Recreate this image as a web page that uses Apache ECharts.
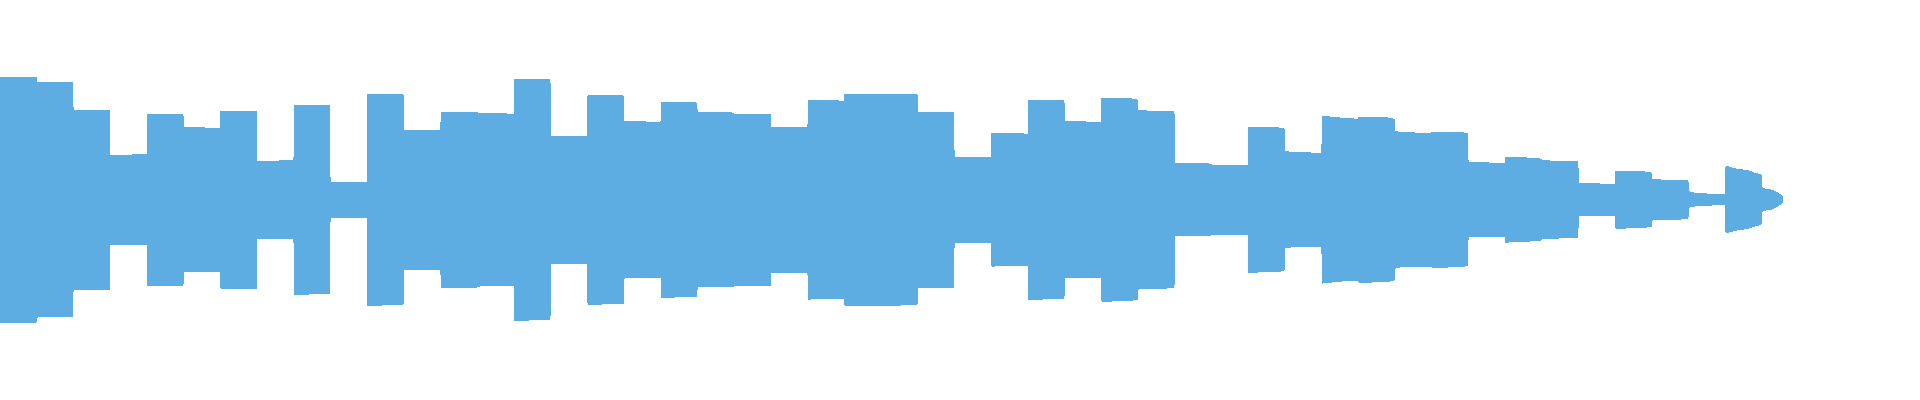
<!DOCTYPE html>
<html>
<head>
<meta charset="utf-8">
<script src="https://cdn.jsdelivr.net/npm/echarts@6/dist/echarts.min.js"></script>
<style>
html,body{margin:0;padding:0;background:#ffffff;}
#chart{width:1920px;height:400px;}
#chart path{shape-rendering:crispEdges;}
</style>
</head>
<body>
<div id="chart"></div>
<script>
// One layer of a theme river; each step (period) has a value at its start and at its end.
const layerName = 'Stream';
const segmentStart = [123,118,90,45,86,73,89,39,95,18,106,70,88,87,121,64,105,79,98,88,86,73,100,106,106,88,43,67,100,79,102,90,37,35,73,49,84,83,69,68,38,43,39.5,17,29,21,8.5];
const segmentEnd   = [123,117,90,45.5,86,72,89,39.5,94,18,105,70,88,86,120,64,104,78,97,87,86,73,99,106,105,88,43,66,99,78,100,88,36,35,71,47,81,80.5,67,66,37,41,38,16,27,19,5.7];
// Tapering tail of the river (last partial periods)
const tailTimes  = [47.01, 47.3, 47.6, 47.8, 47.99, 48.01, 48.26, 48.45, 48.57];
const tailValues = [34, 31, 29.5, 27, 24, 12.7, 10, 6.5, 3.3];

const riverData = [];
segmentStart.forEach(function (s, k) {
  riverData.push([k === 0 ? 0 : k + 0.01, s, layerName]);
  riverData.push([k + 0.99, segmentEnd[k], layerName]);
});
tailTimes.forEach(function (t, i) {
  riverData.push([t, tailValues[i], layerName]);
});

const chart = echarts.init(document.getElementById('chart'), null, {renderer: 'svg'});
chart.setOption({
  animation: false,
  color: ['#5DADE2'],
  singleAxis: {
    type: 'value',
    min: 0,
    max: 48.57,
    left: 0,
    right: 137,
    top: 76.6,
    bottom: 77.4,
    axisLine: {show: false},
    axisTick: {show: false},
    axisLabel: {show: false},
    splitLine: {show: false}
  },
  series: [{
    type: 'themeRiver',
    boundaryGap: [0, 0],
    label: {show: false},
    itemStyle: {color: '#5DADE2', opacity: 1, borderWidth: 0},
    emphasis: {disabled: true},
    data: riverData
  }]
});
</script>
</body>
</html>
